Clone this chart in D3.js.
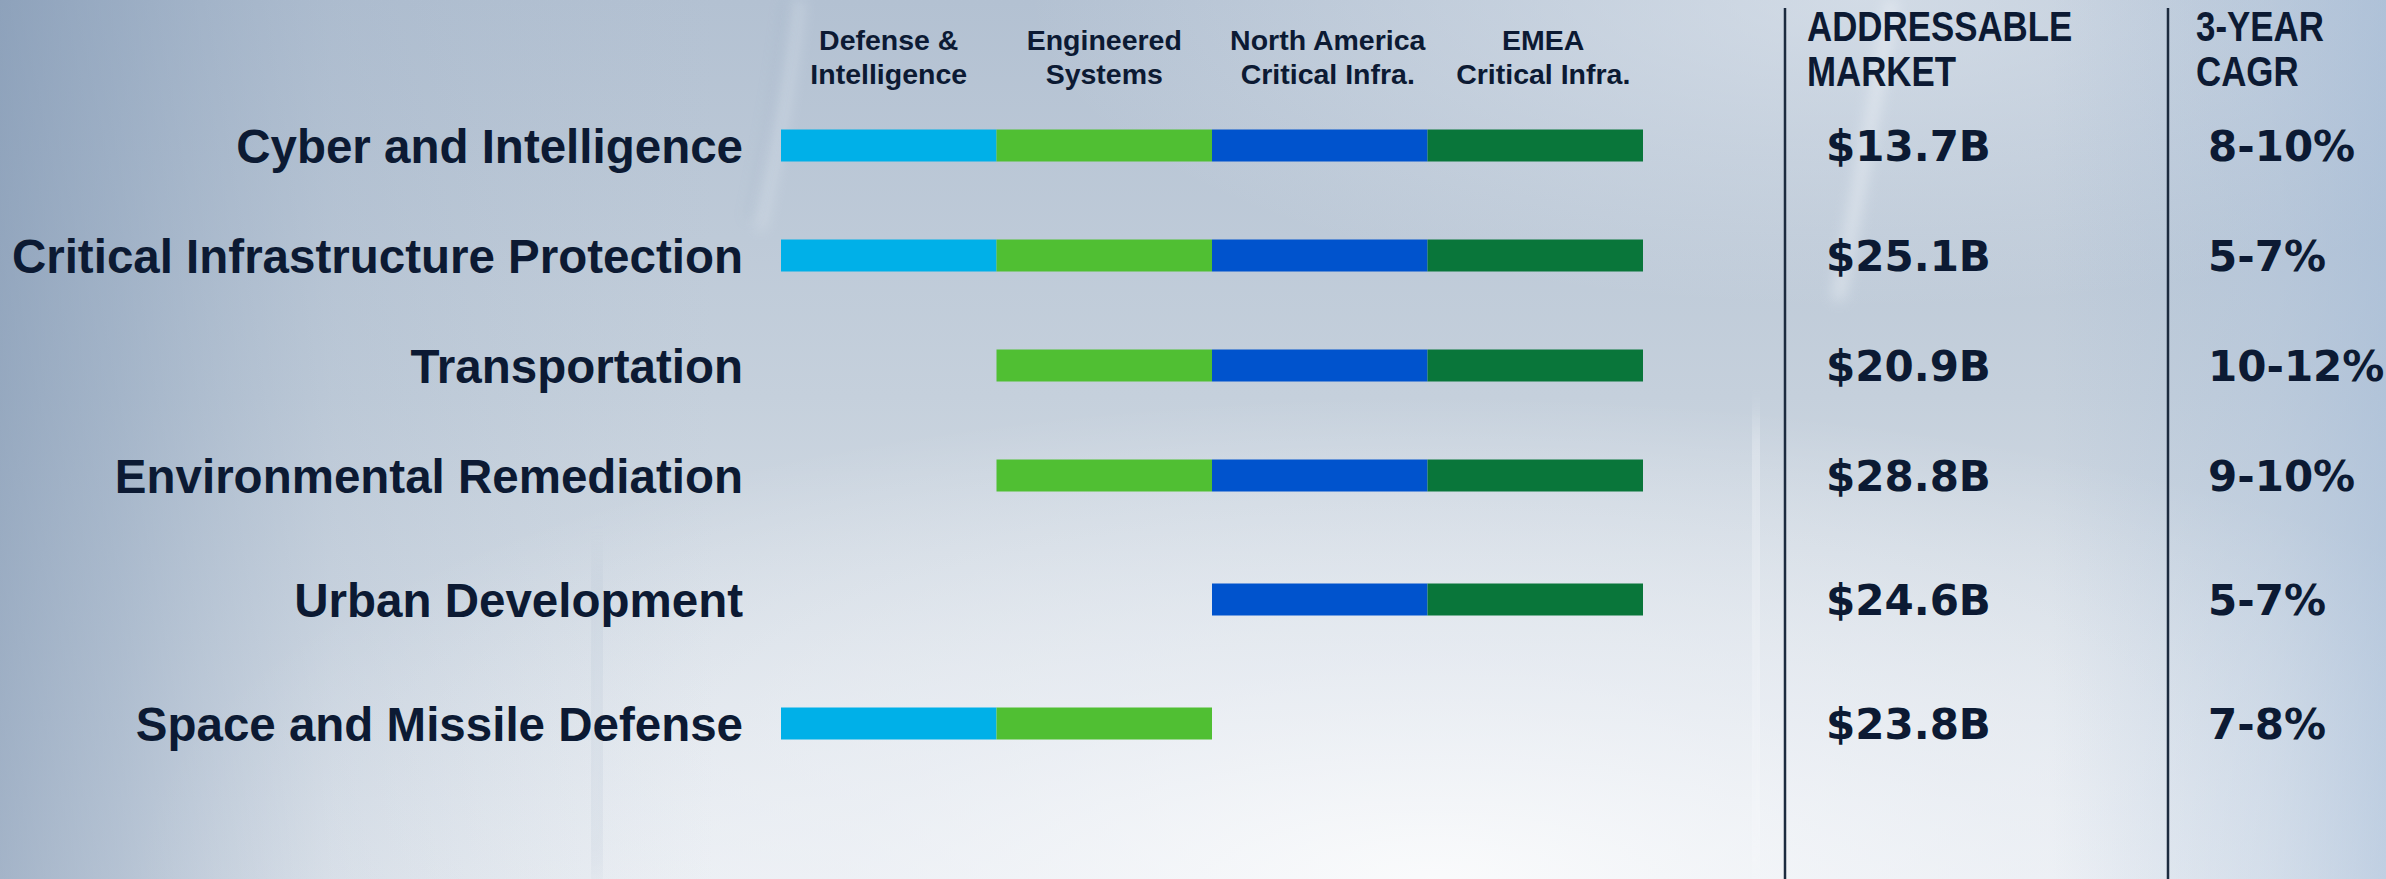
<!DOCTYPE html>
<html>
<head>
<meta charset="utf-8">
<script src="https://cdn.jsdelivr.net/npm/d3@7/dist/d3.min.js"></script>
<style>
  html, body { margin: 0; padding: 0; background: #c9d3de; }
  svg { display: block; }
</style>
</head>
<body>
<div id="chart"></div>
<script>
// ---- data ----
const categories = [
  "Cyber and Intelligence",
  "Critical Infrastructure Protection",
  "Transportation",
  "Environmental Remediation",
  "Urban Development",
  "Space and Missile Defense"
];
const segments = [
  "Defense & Intelligence",
  "Engineered Systems",
  "North America Critical Infra.",
  "EMEA Critical Infra."
];
const segmentLabelLines = [
  ["Defense &", "Intelligence"],
  ["Engineered", "Systems"],
  ["North America", "Critical Infra."],
  ["EMEA", "Critical Infra."]
];
// 1 = the market is served by that segment
const coverage = [
  [1, 1, 1, 1],
  [1, 1, 1, 1],
  [0, 1, 1, 1],
  [0, 1, 1, 1],
  [0, 0, 1, 1],
  [1, 1, 0, 0]
];
const addressableMarketB = [13.7, 25.1, 20.9, 28.8, 24.6, 23.8];
const cagrLow = [8, 5, 10, 9, 5, 7];
const cagrHigh = [10, 7, 12, 10, 7, 8];
const marketHeader = ["ADDRESSABLE", "MARKET"];
const cagrHeader = ["3-YEAR", "CAGR"];

// ---- layout ----
const W = 2386, H = 879;
const ink = "#0c1a33";
const segColors = ["#00b0e8", "#50bf33", "#0053cd", "#09763a"];
const labelFont = "'Liberation Sans', Arial, sans-serif";
const numFont = "'DejaVu Sans', sans-serif";

const svg = d3.select("#chart").append("svg")
  .attr("width", W).attr("height", H);

// ---- background ----
const defs = svg.append("defs");
function linGrad(id, x1, y1, x2, y2, stops) {
  const g = defs.append("linearGradient").attr("id", id)
    .attr("x1", x1).attr("y1", y1).attr("x2", x2).attr("y2", y2);
  stops.forEach(s => g.append("stop").attr("offset", s[0])
    .attr("stop-color", s[1]).attr("stop-opacity", s[2] == null ? 1 : s[2]));
}
function radGrad(id, cx, cy, r, stops) {
  const g = defs.append("radialGradient").attr("id", id)
    .attr("cx", cx).attr("cy", cy).attr("r", r);
  stops.forEach(s => g.append("stop").attr("offset", s[0])
    .attr("stop-color", s[1]).attr("stop-opacity", s[2] == null ? 1 : s[2]));
}
linGrad("bgBase", 0, 0, 0, 1, [
  [0, "#b3c1d2"], [0.45, "#c5d0dc"], [1, "#e4e9ef"]
]);
linGrad("bgLeft", 0, 0, 1, 0, [
  [0, "#6f88a8", 0.55], [0.05, "#7b93b1", 0.45], [0.14, "#8ea3bd", 0.18], [0.3, "#a0b2c6", 0]
]);
linGrad("bgRight", 0, 0, 1, 0, [
  [0.86, "#9fb7d3", 0], [0.95, "#a9bfd9", 0.35], [1, "#a4bbd7", 0.6]
]);
radGrad("bgGlow", "0.6", "1.0", "0.55", [
  [0, "#ffffff", 0.8], [0.45, "#f4f6fa", 0.55], [1, "#ffffff", 0]
]);
radGrad("bgTopRight", "0.78", "0.0", "0.35", [
  [0, "#e6ecf3", 0.6], [1, "#e6ecf3", 0]
]);
defs.append("filter").attr("id", "soft")
  .attr("x", "-50%").attr("y", "-50%").attr("width", "200%").attr("height", "200%")
  .append("feGaussianBlur").attr("stdDeviation", 7);
defs.append("filter").attr("id", "softer")
  .attr("x", "-50%").attr("y", "-50%").attr("width", "200%").attr("height", "200%")
  .append("feGaussianBlur").attr("stdDeviation", 18);

const bg = svg.append("g");
bg.append("rect").attr("width", W).attr("height", H).attr("fill", "url(#bgBase)");
bg.append("rect").attr("width", W).attr("height", H).attr("fill", "url(#bgTopRight)");
bg.append("rect").attr("width", W).attr("height", H).attr("fill", "url(#bgGlow)");
bg.append("rect").attr("width", W).attr("height", H).attr("fill", "url(#bgLeft)");
bg.append("rect").attr("width", W).attr("height", H).attr("fill", "url(#bgRight)");
// faint light sweeps across the backdrop
bg.append("path").attr("d", "M800,0 C792,70 778,150 760,230")
  .attr("stroke", "#e9eff6").attr("stroke-width", 8).attr("fill", "none")
  .attr("opacity", 0.4).attr("filter", "url(#soft)");
bg.append("path").attr("d", "M786,0 C779,60 766,140 748,220")
  .attr("stroke", "#8a9db6").attr("stroke-width", 3).attr("fill", "none")
  .attr("opacity", 0.35).attr("filter", "url(#soft)");
bg.append("path").attr("d", "M1892,0 C1880,80 1862,170 1838,300")
  .attr("stroke", "#f6f9fc").attr("stroke-width", 12).attr("fill", "none")
  .attr("opacity", 0.45).attr("filter", "url(#soft)");
bg.append("path").attr("d", "M1758,420 L1754,879")
  .attr("stroke", "#f7f9fc").attr("stroke-width", 30).attr("fill", "none")
  .attr("opacity", 0.5).attr("filter", "url(#softer)");
bg.append("path").attr("d", "M600,560 L594,879")
  .attr("stroke", "#a9b9cc").attr("stroke-width", 20).attr("fill", "none")
  .attr("opacity", 0.35).attr("filter", "url(#softer)");

// ---- scales ----
const x = d3.scaleBand().domain(segments).range([781, 1643]).paddingInner(0);
const y = d3.scaleLinear().domain([0, 3, 5]).range([145.5, 475.5, 723.5]);
const color = d3.scaleOrdinal().domain(segments).range(segColors);
const barH = 32;

// ---- segment headers ----
const head = svg.append("g").attr("font-family", labelFont).attr("font-weight", "bold")
  .attr("font-size", 28.5).attr("fill", ink).attr("text-anchor", "middle");
segments.forEach((s, j) => {
  const cx = x(s) + x.bandwidth() / 2 + (j >= 2 ? 8 : 0);
  const t = head.append("text");
  segmentLabelLines[j].forEach((line, k) => {
    t.append("tspan").attr("x", cx).attr("y", 50 + k * 34).text(line);
  });
});

// ---- rows ----
const rows = svg.append("g").selectAll("g").data(categories).join("g");
rows.append("text")
  .attr("x", 743).attr("y", (d, i) => y(i) + 17)
  .attr("text-anchor", "end")
  .attr("font-family", labelFont).attr("font-weight", "bold").attr("font-size", 47.5)
  .attr("fill", ink).text(d => d);

rows.selectAll("rect")
  .data((d, i) => segments.filter((s, j) => coverage[i][j]).map(s => ({ s, i })))
  .join("rect")
  .attr("x", d => x(d.s)).attr("width", x.bandwidth())
  .attr("y", d => y(d.i) - barH / 2).attr("height", barH)
  .attr("fill", d => color(d.s));

// ---- market & growth columns ----
const colX = { market: 1826, cagr: 2208, marketHead: 1807, cagrHead: 2196 };
[[marketHeader, colX.marketHead], [cagrHeader, colX.cagrHead]].forEach(([lines, cx]) => {
  lines.forEach((l, k) => {
    svg.append("text")
      .attr("transform", `translate(${cx},${41 + k * 45}) scale(0.83,1)`)
      .attr("font-family", labelFont).attr("font-weight", "bold")
      .attr("font-size", 42).attr("fill", ink).text(l);
  });
});

svg.append("g").selectAll("text").data(addressableMarketB).join("text")
  .attr("x", colX.market).attr("y", (d, i) => y(i) + 15.5)
  .attr("font-family", numFont).attr("font-weight", "bold").attr("font-size", 42)
  .attr("fill", ink).text(d => "$" + d.toFixed(1) + "B");

svg.append("g").selectAll("text").data(cagrLow).join("text")
  .attr("x", colX.cagr).attr("y", (d, i) => y(i) + 15.5)
  .attr("font-family", numFont).attr("font-weight", "bold").attr("font-size", 42)
  .attr("fill", ink).text((d, i) => d + "-" + cagrHigh[i] + "%");

// column dividers
svg.append("g").selectAll("line").data([1785, 2168]).join("line")
  .attr("x1", d => d).attr("x2", d => d).attr("y1", 8).attr("y2", H)
  .attr("stroke", "#1c2b3f").attr("stroke-width", 2.5);
</script>
</body>
</html>
